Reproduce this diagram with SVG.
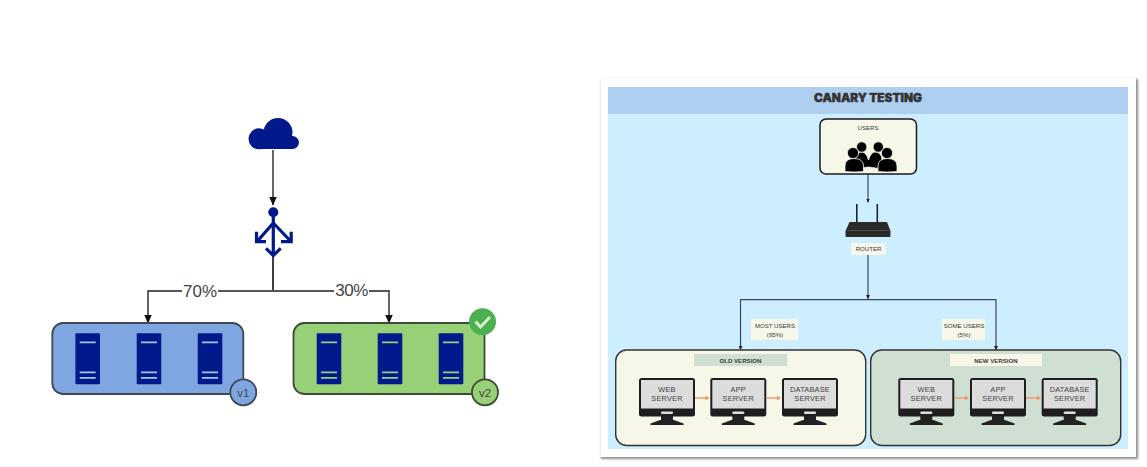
<svg xmlns="http://www.w3.org/2000/svg" width="1147" height="467" viewBox="0 0 1147 467">
<style>
.c{fill:none;stroke:#555;stroke-width:1.8}
.d{fill:none;stroke:#2b2b2b;stroke-width:1.8}
.t{font-family:"Liberation Sans",Arial,sans-serif;fill:#444;text-anchor:middle}
.s{fill:#001a8c;stroke:none}
.b{fill:none;stroke-width:1.7}
.arr{fill:none;stroke:#001a8c;stroke-width:3.2}
.m{stroke:#3c4a55;fill:none;stroke-width:1.2}
.o{stroke:#f0925a;stroke-width:1.3;fill:none}
.ot{fill:#f0925a}
.st{font-family:"Liberation Sans",Arial,sans-serif;fill:#3a3a3a;text-anchor:middle;font-size:6.1px}
.sb{font-family:"Liberation Sans",Arial,sans-serif;fill:#444;text-anchor:middle;font-size:7.4px;letter-spacing:.2px}
</style>
<defs>
<filter id="sh" x="-2%" y="-2%" width="104%" height="104%"><feGaussianBlur stdDeviation="1.200"/></filter>
<marker id="ah" markerWidth="10" markerHeight="8" refX="8.500" refY="4" orient="auto" markerUnits="userSpaceOnUse"><path d="M0,0L9,4L0,8Z" fill="#111"/></marker>
<marker id="as" markerWidth="5" markerHeight="4" refX="4" refY="2" orient="auto" markerUnits="userSpaceOnUse"><path d="M0,0L4,2L0,4Z" fill="#222"/></marker>
<g id="srv"><rect x="-12.300" y="0" width="24.600" height="51" rx="1" class="s"/><path class="b" d="M-8,9H8M-8,39H8M-8,44.500H8"/></g>
<g id="mon">
<rect x="-28" y="0" width="56" height="38.500" rx="2.500" fill="#1e1e1e"/>
<rect x="-26" y="2" width="52" height="28.500" fill="#dcdcdc"/>
<rect x="-6" y="33.500" width="12" height="2.600" rx="1" fill="#ddd"/>
<path d="M-6,38H6V42H-6Z" fill="#222"/><path d="M-7,42H7L16.500,45.500V47H-16.500V45.500Z" fill="#222"/>
</g>
</defs>
<rect width="1147" height="467" fill="#fff"/>

<g id="connectors-left">
<path class="c" d="M273,150V205" marker-end="url(#ah)"/>
<path class="d" d="M273,245V291"/>
<path class="c" d="M273,291H148V323" marker-end="url(#ah)"/>
<path class="c" d="M273,291H389V323" marker-end="url(#ah)"/>
</g>
<g id="label-70"><rect x="182" y="282" width="36" height="17" fill="#fff"/><text class="t" x="200" y="296.500" font-size="17">70%</text></g>
<g id="label-30"><rect x="334" y="282" width="35" height="17" fill="#fff"/><text class="t" x="351.500" y="295.800" font-size="17" letter-spacing="-.5">30%</text></g>

<g id="cloud" class="s"><circle cx="278" cy="132.500" r="14.500"/><circle cx="259" cy="138.800" r="10.500"/><circle cx="292.500" cy="142.500" r="6.500"/><rect x="259" y="132" width="33" height="17"/></g>
<g id="splitter">
<circle class="s" cx="273.300" cy="212.300" r="5"/>
<path class="arr" d="M273.300,217V255M266,248.300L273.300,255.500L280.700,248.300M273.300,223L258,240.500M256.500,231.700V241.700H266M273.300,223L290,240.500M291.200,231.700V241.700H281"/>
</g>

<g id="v1">
<rect x="52.300" y="323" width="191" height="71" rx="11" fill="#7ea6e0" stroke="#3d4a55" stroke-width="1.800"/>
<use href="#srv" x="87.700" y="333.300" stroke="#a9c4ea"/><use href="#srv" x="149" y="333.300" stroke="#a9c4ea"/><use href="#srv" x="210" y="333.300" stroke="#a9c4ea"/>
<circle cx="243.300" cy="392.300" r="13" fill="#7ea6e0" stroke="#3d4a55" stroke-width="1.800"/>
<text class="t" x="243.300" y="396.700" font-size="11.500">v1</text>
</g>
<g id="v2">
<rect x="293.500" y="323" width="191" height="71" rx="11" fill="#97d077" stroke="#3d4a38" stroke-width="1.800"/>
<use href="#srv" x="329" y="333.300" stroke="#97d077"/><use href="#srv" x="390" y="333.300" stroke="#97d077"/><use href="#srv" x="451" y="333.300" stroke="#97d077"/>
<circle cx="485" cy="392.300" r="13" fill="#97d077" stroke="#3d4a38" stroke-width="1.800"/>
<text class="t" x="485" y="396.700" font-size="11.500">v2</text>
<circle cx="482.500" cy="321.700" r="13.500" fill="#4caf50"/>
<path d="M475.500,321.500L480.500,327L490,317" fill="none" stroke="#d8efc8" stroke-width="3"/>
</g>

<g id="panel">
<rect x="601" y="79" width="537" height="380" fill="#8c8c8c" filter="url(#sh)"/>
<rect x="600.500" y="78" width="535.500" height="379" fill="#fff"/>
<rect x="608" y="87" width="520" height="362" fill="#cdeeff"/>
<rect x="608" y="87" width="520" height="27" fill="#aecff0"/>
<text x="868" y="101.500" text-anchor="middle" font-family="Inter,'Liberation Sans',sans-serif" font-weight="900" font-size="11.800" fill="#333" stroke="#333" stroke-width=".4">CANARY TESTING</text>
</g>

<g id="connectors-right">
<path class="m" d="M868,174V202.500" marker-end="url(#as)"/>
<path class="m" d="M868,255V299" marker-end="url(#as)"/>
<path class="m" d="M868,299.700H740.500V350" marker-end="url(#as)"/>
<path class="m" d="M868,299.700H996V350" marker-end="url(#as)"/>
</g>

<g id="users">
<rect x="820" y="119" width="96.500" height="55" rx="6" fill="#f6f7e9" stroke="#1a1a1a" stroke-width="1.500"/>
<text class="st" x="868" y="130">USERS</text>
<g fill="#000" stroke="#f6f7e9" stroke-width=".8">
<path d="M855,169V159Q856,152 862,152Q866,152 868.500,160Q871,152 875,152Q881,152 882,159V169L868.500,167Z"/>
<circle cx="861.700" cy="147" r="5.200"/><circle cx="878.300" cy="147" r="5.200"/>
<circle cx="853" cy="153" r="5.600"/><circle cx="887" cy="153" r="5.600"/>
<path d="M845,171.500V166Q845,158.500 854,158.500Q863.500,158.500 863.500,166V171.500Q854,172.500 845,171.500Z"/>
<path d="M878,171.500V166Q878,158.500 887.500,158.500Q897,158.500 897,166V171.500Q887,172.500 878,171.500Z"/>
</g>
</g>

<g id="router">
<path d="M856.800,204V224M877.300,204V224" stroke="#222" stroke-width="1.600" fill="none"/>
<path d="M849.500,222H887L890.500,231V236Q890.500,237 889,237H847Q845.500,237 845.500,236V231Z" fill="#2a2a2a"/>
<path d="M847,230.500H889" stroke="#555" stroke-width=".8"/>
<rect x="851" y="243" width="35" height="12" fill="#f6f7e9"/>
<text class="st" x="868.500" y="251">ROUTER</text>
</g>

<g id="label-most"><rect x="751" y="319" width="47" height="21" fill="#f6f7e9"/><text class="st" x="775" y="327.500">MOST USERS</text><text class="st" x="775" y="336.500">(95%)</text></g>
<g id="label-some"><rect x="942" y="319" width="43" height="21" fill="#f6f7e9"/><text class="st" x="964" y="327.500">SOME USERS</text><text class="st" x="964" y="336.500">(5%)</text></g>

<g id="old-version">
<rect x="615.700" y="350" width="250" height="95.500" rx="11" fill="#f6f7e9" stroke="#333" stroke-width="1.400"/>
<rect x="694" y="354" width="93" height="12" fill="#cfe0d3"/>
<text class="st" x="740.500" y="362.500" font-weight="700">OLD VERSION</text>
</g>
<g id="old-web"><use href="#mon" x="667" y="378"/><text class="sb" x="667" y="391.500">WEB</text><text class="sb" x="667" y="400.500">SERVER</text></g>
<g id="old-app"><use href="#mon" x="738.300" y="378"/><text class="sb" x="738.300" y="391.500">APP</text><text class="sb" x="738.300" y="400.500">SERVER</text></g>
<g id="old-db"><use href="#mon" x="810" y="378"/><text class="sb" x="810" y="391.500">DATABASE</text><text class="sb" x="810" y="400.500">SERVER</text></g>

<g id="new-version">
<rect x="870.700" y="350" width="250" height="95.500" rx="11" fill="#cfe0d3" stroke="#333" stroke-width="1.400"/>
<rect x="950" y="354" width="92" height="12" fill="#f6f7e9"/>
<text class="st" x="996" y="362.500" font-weight="700">NEW VERSION</text>
</g>
<g id="new-web"><use href="#mon" x="926.300" y="378"/><text class="sb" x="926.300" y="391.500">WEB</text><text class="sb" x="926.300" y="400.500">SERVER</text></g>
<g id="new-app"><use href="#mon" x="998" y="378"/><text class="sb" x="998" y="391.500">APP</text><text class="sb" x="998" y="400.500">SERVER</text></g>
<g id="new-db"><use href="#mon" x="1069.700" y="378"/><text class="sb" x="1069.700" y="391.500">DATABASE</text><text class="sb" x="1069.700" y="400.500">SERVER</text></g>

<g id="connectors-orange">
<path class="o" d="M695,398H707"/><path class="ot" d="M705.500,395.800L709.500,398L705.500,400.200Z"/>
<path class="o" d="M767,398H779"/><path class="ot" d="M777,395.800L781,398L777,400.200Z"/>
<path class="o" d="M954.500,398H967"/><path class="ot" d="M965,395.800L969,398L965,400.200Z"/>
<path class="o" d="M1026,398H1039"/><path class="ot" d="M1037,395.800L1041,398L1037,400.200Z"/>
</g>
</svg>
